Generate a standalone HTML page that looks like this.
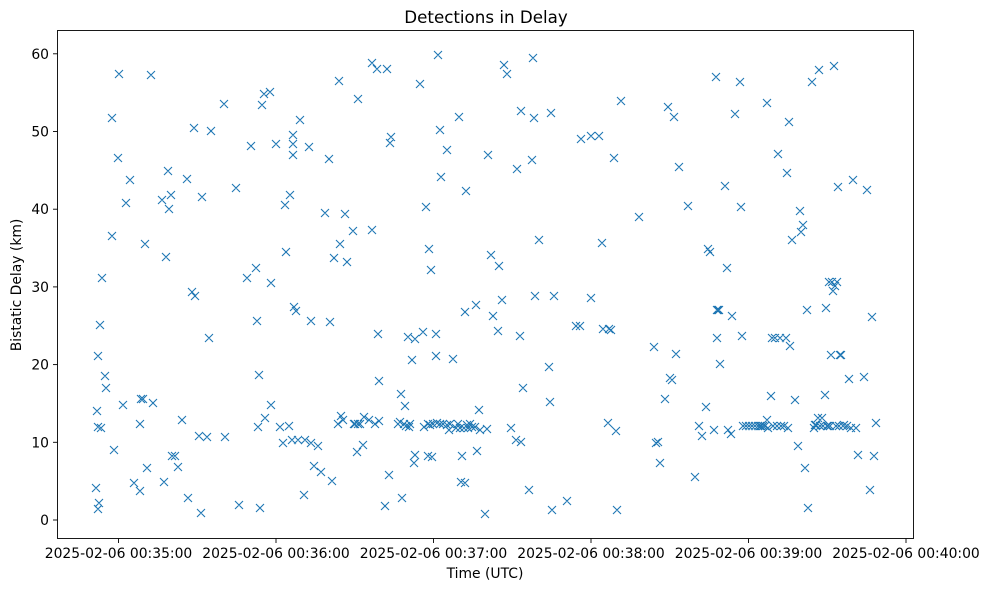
<!DOCTYPE html>
<html><head><meta charset="utf-8"><style>
body{margin:0;background:#fff;}
svg text{font-family:"DejaVu Sans","Liberation Sans",sans-serif;fill:#000;}
</style></head><body>
<svg id="s" width="989" height="590" viewBox="0 0 989 590" xmlns="http://www.w3.org/2000/svg">
<rect width="989" height="590" fill="#fff"/>
<text x="486" y="23" font-size="16.7" text-anchor="middle">Detections in Delay</text>
<g id="ticks" font-size="13.9"></g>
<text x="485" y="578" font-size="13.9" text-anchor="middle">Time (UTC)</text>
<text transform="translate(21,285) rotate(-90)" font-size="13.9" text-anchor="middle">Bistatic Delay (km)</text>
<path id="pts" fill="none" stroke="#1f77b4" stroke-width="1.1"/>
<rect x="57.5" y="30.5" width="856" height="508" fill="none" stroke="#000" stroke-width="0.9"/>
</svg>
<script>
var P=[96,488,97,411,98,356,98,427,98,509,99,503,100,325,101,428,102,278,105,376,106,388,112,118,112,236,114,450,118,158,119,74,123,405,126,203,130,180,134,483,140,424,140,491,141,399,143,399,145,244,147,468,151,75,153,403,162,200,164,482,166,257,168,171,169,209,171,195,172,456,175,456,178,467,182,420,187,179,188,498,192,292,194,128,195,296,199,436,201,513,202,197,207,437,209,338,211,131,224,104,225,437,236,188,239,505,247,278,251,146,256,268,257,321,258,427,259,375,260,508,262,105,264,94,265,418,270,92,271,405,271,283,276,144,280,427,283,443,285,205,286,252,289,426,290,195,292,440,293,155,293,144,293,135,294,307,296,311,298,440,300,120,304,495,305,440,309,147,311,443,311,321,314,466,318,446,321,472,325,213,329,159,330,322,332,481,334,258,338,424,339,81,340,244,341,416,343,420,345,214,347,262,353,231,354,424,355,424,357,452,358,424,358,99,360,424,363,445,364,417,369,420,372,230,372,63,375,424,377,69,378,334,379,381,379,421,385,506,387,69,389,475,390,143,391,137,398,424,400,422,401,394,402,498,404,424,405,406,406,426,408,337,409,427,410,424,412,360,414,463,415,339,415,455,420,84,423,332,424,427,426,207,428,424,428,456,429,249,430,425,431,270,432,457,433,424,436,334,436,356,437,423,438,55,440,130,440,424,441,177,443,424,447,150,447,425,449,430,450,424,453,359,456,428,458,424,459,117,460,428,461,482,462,456,464,428,465,312,465,483,466,191,467,425,468,428,470,424,472,427,475,427,476,305,477,451,479,410,480,430,485,514,487,429,488,155,491,255,493,316,498,331,499,266,502,300,504,65,507,74,511,428,516,440,517,169,520,336,521,111,521,442,523,388,529,490,532,160,533,58,534,118,535,296,539,240,549,367,550,402,551,113,552,510,554,296,567,501,576,326,580,326,581,139,591,298,591,136,599,136,602,243,603,329,608,423,609,329,611,330,614,158,616,431,617,510,621,101,639,217,654,347,656,443,658,442,660,463,665,399,668,107,670,378,672,380,674,117,676,354,679,167,688,206,695,477,699,426,702,436,706,407,708,249,710,252,714,430,716,77,717,338,717,310,718,310,719,310,720,364,725,186,727,268,728,430,731,434,732,316,735,114,740,82,741,207,742,336,743,426,746,426,749,426,752,426,755,426,758,426,760,426,761,426,763,426,765,426,767,103,767,420,768,428,771,396,772,338,773,426,775,338,777,426,778,154,780,338,781,426,784,426,786,338,787,173,788,428,790,346,789,122,792,240,795,400,798,446,800,211,801,232,803,225,805,468,807,310,808,508,812,82,814,428,815,425,816,425,818,418,819,70,820,426,822,418,823,426,825,395,826,308,827,426,828,426,829,282,830,426,831,355,832,282,833,291,834,66,835,286,836,426,837,282,838,187,839,426,840,355,841,355,843,426,844,425,847,426,849,379,851,428,853,180,856,428,858,455,864,377,867,190,870,490,872,317,874,456,876,423];
var d="",r=4;
for(var i=0;i<P.length;i+=2){var x=P[i],y=P[i+1];d+="M"+(x-r)+" "+(y-r)+"L"+(x+r)+" "+(y+r)+"M"+(x-r)+" "+(y+r)+"L"+(x+r)+" "+(y-r);}
document.getElementById("pts").setAttribute("d",d);
var g=document.getElementById("ticks"),h="";
for(var v=0;v<=60;v+=10){var y=520-7.77*v;h+='<line x1="53" x2="57.5" y1="'+y+'" y2="'+y+'" stroke="#000" stroke-width="0.9"/><text x="49" y="'+(y+5)+'" text-anchor="end">'+v+'</text>';}
for(var k=0;k<6;k++){var x=118.5+157.5*k;h+='<line x1="'+x+'" x2="'+x+'" y1="538.5" y2="543" stroke="#000" stroke-width="0.9"/><text x="'+x+'" y="558" text-anchor="middle">2025-02-06 00:'+(35+k)+':00</text>';}
g.innerHTML=h;
</script>
</body></html>
